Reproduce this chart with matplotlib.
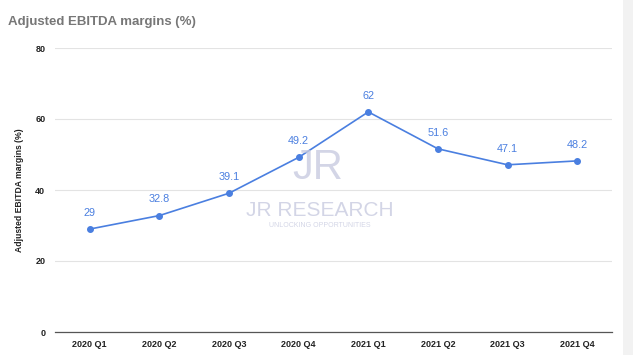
import matplotlib.pyplot as plt
from matplotlib.patches import Rectangle

# Data
quarters = ['2020 Q1', '2020 Q2', '2020 Q3', '2020 Q4',
            '2021 Q1', '2021 Q2', '2021 Q3', '2021 Q4']
margins = [29, 32.8, 39.1, 49.2, 62, 51.6, 47.1, 48.2]
yticks = [0, 20, 40, 60, 80]

plt.rcParams['font.family'] = ['Liberation Sans', 'DejaVu Sans']

blue = '#4a7fe0'
fig = plt.figure(figsize=(6.33, 3.55), dpi=100)
fig.patch.set_facecolor('white')

# light gray strip on the right edge of the screenshot
fig.patches.append(Rectangle((623 / 633, 0), 10 / 633, 1, transform=fig.transFigure,
                             facecolor='#f2f2f2', edgecolor='none', zorder=0))

ax = fig.add_axes([55 / 633, 1 - 332 / 355, 557 / 633, 284 / 355])
x = range(len(quarters))
ax.plot(x, margins, color=blue, lw=1.2, marker='o', ms=4, zorder=3)
for xi, v in zip(x, margins):
    ax.annotate(f'{v:g}', (xi, v), xytext=(0, 8), textcoords='offset points',
                ha='center', va='bottom', color=blue, fontsize=7.8)

ax.set_xlim(-0.5, len(quarters) - 0.5)
ax.set_ylim(0, 80)
ax.set_yticks(yticks)
ax.set_xticks(list(x))
ax.set_xticklabels(quarters)
ax.grid(axis='y', color='#e3e3e3', lw=0.8)
ax.set_axisbelow(True)
for s in ['top', 'right', 'left']:
    ax.spines[s].set_visible(False)
ax.spines['bottom'].set_color('#555555')
ax.spines['bottom'].set_linewidth(0.9)
ax.tick_params(length=0, labelsize=6.5)
for lab in ax.get_xticklabels() + ax.get_yticklabels():
    lab.set_fontweight('bold')
    lab.set_color('#222222')
ax.tick_params(axis='y', pad=7)
ax.tick_params(axis='x', pad=6)

ax.set_ylabel('Adjusted EBITDA margins (%)', fontsize=6.2, fontweight='bold',
              color='#222222', labelpad=8)

fig.text(8 / 633, 1 - 22 / 355, 'Adjusted EBITDA margins (%)', fontsize=9.5,
         fontweight='bold', color='#777777', va='center', ha='left')

# watermark
wm = '#c8cbe0'
fig.text(318 / 633, 1 - 168 / 355, 'JR', fontsize=30, color=wm, ha='center',
         va='center', alpha=0.8)
fig.text(320 / 633, 1 - 211 / 355, 'JR RESEARCH', fontsize=15, color=wm,
         ha='center', va='center', alpha=0.8)
fig.text(320 / 633, 1 - 225 / 355, 'UNLOCKING OPPORTUNITIES', fontsize=5,
         color=wm, ha='center', va='center', alpha=0.8)

fig.savefig('out.png', dpi=100)
